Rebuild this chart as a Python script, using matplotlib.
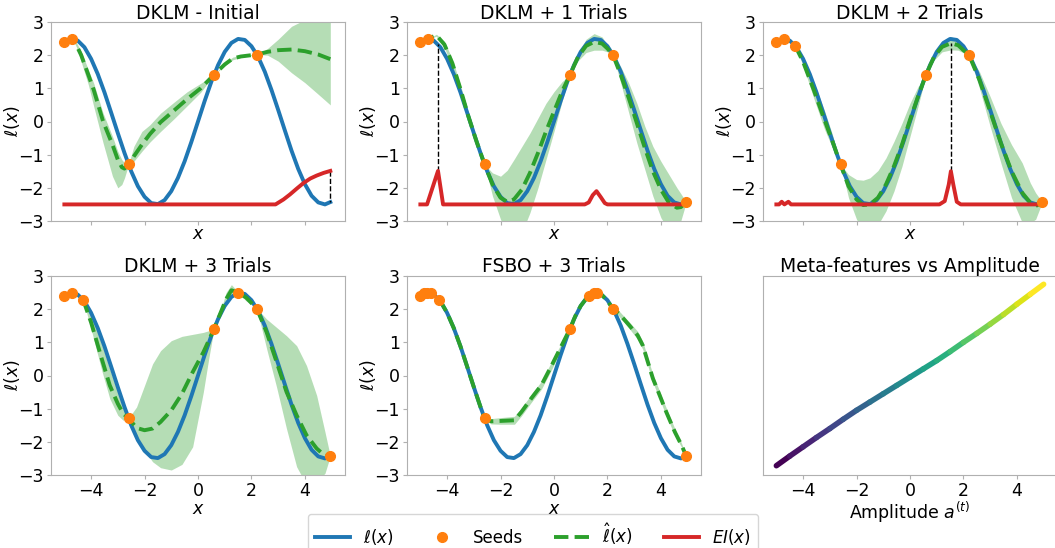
import numpy as np
import matplotlib
matplotlib.use("Agg")
import matplotlib.pyplot as plt
from matplotlib.lines import Line2D
from matplotlib.collections import LineCollection

BLUE, ORANGE, GREEN, RED = "#1f77b4", "#ff7f0e", "#2ca02c", "#d62728"
SPINE = "#b0b0b0"

# true objective l(x), every 0.25
X_TRUE = [-5.0, -4.75, -4.5, -4.25, -4.0, -3.75, -3.5, -3.25, -3.0, -2.75, -2.5, -2.25, -2.0, -1.75,
          -1.5, -1.25, -1.0, -0.75, -0.5, -0.25, 0.0, 0.25, 0.5, 0.75, 1.0, 1.25, 1.5, 1.75, 2.0,
          2.25, 2.5, 2.75, 3.0, 3.25, 3.5, 3.75, 4.0, 4.25, 4.5, 4.75, 4.95]
Y_TRUE = [2.40, 2.50, 2.44, 2.24, 1.89, 1.43, 0.88, 0.27, -0.35, -0.95, -1.50, -1.95, -2.27, -2.46,
          -2.49, -2.37, -2.10, -1.70, -1.20, -0.62, 0.00, 0.62, 1.20, 1.70, 2.10, 2.37, 2.49, 2.46, 2.27,
          1.95, 1.50, 0.95, 0.35, -0.27, -0.88, -1.43, -1.89, -2.24, -2.44, -2.50, -2.43]

# seeds
seed_x_init = [-5.0, -4.7, -2.6, 0.6, 2.2]
seed_y_init = [2.40, 2.50, -1.29, 1.41, 2.02]
seed_x_1 = seed_x_init + [4.95]
seed_y_1 = seed_y_init + [-2.43]
seed_x_2 = seed_x_1 + [-4.3]
seed_y_2 = seed_y_1 + [2.29]
seed_x_3 = seed_x_2 + [1.5]
seed_y_3 = seed_y_2 + [2.49]
seed_x_fsbo = [-5.0, -4.85, -4.75, -4.6, -4.3, -2.6, 0.6, 1.3, 1.5, 1.6, 2.2, 4.95]
seed_y_fsbo = [2.40, 2.48, 2.50, 2.48, 2.29, -1.29, 1.41, 2.41, 2.49, 2.50, 2.02, -2.43]

# DKLM - Initial : surrogate mean, band below / above mean
x_p1 = [-5.0, -4.7, -4.55, -4.37, -4.1, -3.9, -3.55, -3.2, -3.0, -2.85, -2.75, -2.6, -2.4, -2.1, -1.8,
        -1.4, -0.9, -0.4, 0.1, 0.6, 1.0, 1.3, 1.6, 2.2, 2.6, 3.0, 3.5, 4.0, 4.5, 4.95]
m_p1 = [2.40, 2.50, 2.30, 2.00, 1.40, 0.95, 0.00, -0.70, -1.15, -1.38, -1.42, -1.30, -1.05, -0.70, -0.38,
        -0.02, 0.33, 0.68, 1.00, 1.41, 1.72, 1.90, 1.96, 2.02, 2.10, 2.15, 2.17, 2.12, 2.02, 1.88]
lo_p1 = [2.40, 2.50, 2.25, 1.80, 1.10, 0.45, -0.65, -1.65, -2.00, -1.90, -1.70, -1.30, -1.20, -0.90, -0.62,
         -0.30, 0.08, 0.48, 0.88, 1.41, 1.68, 1.86, 1.93, 2.02, 2.00, 1.82, 1.47, 1.17, 0.82, 0.50]
hi_p1 = [2.40, 2.50, 2.38, 2.12, 1.55, 1.15, 0.25, -0.45, -0.90, -1.15, -1.25, -1.30, -0.75, -0.30, -0.10,
         0.25, 0.58, 0.90, 1.15, 1.41, 1.76, 1.94, 2.00, 2.02, 2.20, 2.48, 2.87, 3.07, 3.22, 3.26]

# DKLM + 1 Trials
x_p2 = [-5.0, -4.7, -4.4, -4.1, -3.8, -3.5, -3.2, -2.9, -2.6, -2.3, -2.0, -1.75, -1.5, -1.2, -0.9, -0.6,
        -0.3, 0.0, 0.3, 0.6, 0.9, 1.2, 1.5, 1.8, 2.0, 2.2, 2.5, 2.8, 3.1, 3.4, 3.7, 4.0, 4.3, 4.6, 4.75, 4.95]
m_p2 = [2.40, 2.50, 2.60, 2.32, 1.75, 0.98, 0.15, -0.60, -1.29, -1.90, -2.30, -2.42, -2.35, -2.05, -1.55,
        -0.95, -0.30, 0.30, 0.90, 1.41, 1.95, 2.28, 2.40, 2.35, 2.20, 2.02, 1.40, 0.70, -0.05, -0.80, -1.50,
        -2.05, -2.45, -2.60, -2.58, -2.43]
s_p2 = [0.0, 0.0, 0.03, 0.10, 0.12, 0.12, 0.12, 0.10, 0.0, 0.35, 0.65, 0.95, 1.20, 1.30, 1.20, 1.05,
        0.85, 0.60, 0.30, 0.0, 0.12, 0.20, 0.25, 0.20, 0.10, 0.0, 0.25, 0.45, 0.60, 0.65, 0.75, 0.85,
        0.85, 0.60, 0.40, 0.0]

# DKLM + 2 Trials
x_p3 = [-5.0, -4.7, -4.3, -4.0, -3.6, -3.2, -2.9, -2.6, -2.3, -2.0, -1.75, -1.5, -1.2, -0.9, -0.6, -0.3,
        0.0, 0.3, 0.6, 0.9, 1.2, 1.53, 1.8, 2.0, 2.2, 2.6, 3.0, 3.4, 3.8, 4.2, 4.5, 4.7, 4.95]
m_p3 = [2.40, 2.50, 2.29, 1.80, 0.95, 0.05, -0.60, -1.29, -1.95, -2.35, -2.52, -2.50, -2.30, -1.90, -1.35,
        -0.70, 0.05, 0.75, 1.41, 1.95, 2.25, 2.36, 2.30, 2.15, 2.02, 1.25, 0.30, -0.65, -1.50, -2.15, -2.45,
        -2.55, -2.43]
s_p3 = [0.0, 0.0, 0.0, 0.12, 0.25, 0.28, 0.20, 0.0, 0.35, 0.60, 0.75, 0.80, 0.82, 0.80, 0.75, 0.65,
        0.50, 0.30, 0.0, 0.10, 0.15, 0.20, 0.15, 0.08, 0.0, 0.25, 0.45, 0.60, 0.80, 0.90, 0.60, 0.40, 0.0]

# DKLM + 3 Trials
x_p4 = [-5.0, -4.7, -4.3, -4.0, -3.6, -3.3, -3.0, -2.8, -2.6, -2.3, -2.0, -1.7, -1.4, -1.0, -0.6, -0.2,
        0.2, 0.4, 0.6, 0.9, 1.05, 1.25, 1.5, 1.8, 2.2, 2.57, 2.94, 3.31, 3.69, 4.06, 4.44, 4.75, 4.95]
m_p4 = [2.40, 2.50, 2.29, 1.60, 0.50, -0.30, -0.85, -1.15, -1.29, -1.58, -1.65, -1.60, -1.40, -1.05, -0.55,
        0.10, 0.70, 1.05, 1.41, 2.00, 2.30, 2.57, 2.50, 2.35, 2.02, 1.30, 0.41, -0.49, -1.20, -1.80, -2.20,
        -2.42, -2.43]
lo_p4 = [2.40, 2.50, 2.29, 1.40, 0.15, -0.70, -1.20, -1.35, -1.29, -1.95, -2.25, -2.60, -2.78, -2.85, -2.68,
         -2.15, -0.50, 0.50, 1.41, 1.90, 2.10, 2.42, 2.49, 2.25, 2.02, 0.80, -0.35, -1.60, -2.75, -3.30, -3.20,
         -2.95, -2.43]
hi_p4 = [2.40, 2.50, 2.29, 1.85, 0.95, 0.20, -0.50, -0.95, -1.29, -0.95, -0.30, 0.35, 0.75, 1.05, 1.18,
         1.24, 1.30, 1.35, 1.41, 2.10, 2.50, 2.74, 2.52, 2.45, 2.02, 1.70, 1.45, 1.20, 0.90, 0.30, -0.60,
         -1.70, -2.43]

# FSBO + 3 Trials
x_p5 = [-5.0, -4.75, -4.5, -4.25, -4.0, -3.75, -3.5, -3.25, -3.0, -2.75, -2.6, -2.36, -2.0, -1.48, -1.22,
        -0.85, -0.47, -0.09, 0.29, 0.6, 0.8, 1.0, 1.3, 1.55, 1.8, 2.0, 2.2, 2.44, 2.82, 3.13, 3.32, 3.51,
        3.70, 3.95, 4.20, 4.52, 4.77, 4.95]
m_p5 = [2.40, 2.50, 2.44, 2.24, 1.89, 1.43, 0.88, 0.27, -0.35, -0.95, -1.29, -1.38, -1.37, -1.35, -1.10,
        -0.69, -0.29, 0.30, 0.91, 1.41, 1.80, 2.10, 2.41, 2.50, 2.42, 2.25, 2.02, 1.86, 1.51, 1.21, 0.91,
        0.41, -0.09, -0.59, -1.10, -1.70, -2.10, -2.43]
s_p5 = [0.0, 0.0, 0.0, 0.0, 0.05, 0.05, 0.05, 0.05, 0.05, 0.05, 0.0, 0.08, 0.10, 0.12, 0.12, 0.12, 0.12,
        0.12, 0.08, 0.0, 0.03, 0.03, 0.0, 0.0, 0.02, 0.02, 0.0, 0.08, 0.10, 0.12, 0.12, 0.12, 0.12, 0.12,
        0.12, 0.10, 0.06, 0.0]

# expected improvement (shifted down to -2.5)
ei_x_p1 = [-5.0, 2.9, 3.2, 3.44, 3.7, 3.94, 4.2, 4.44, 4.7, 4.95]
ei_y_p1 = [-2.5, -2.5, -2.35, -2.2, -2.02, -1.86, -1.72, -1.63, -1.55, -1.49]
ei_x_p2 = [-5.0, -4.75, -4.34, -4.15, 1.15, 1.3, 1.45, 1.59, 1.75, 1.9, 2.0, 4.95]
ei_y_p2 = [-2.5, -2.5, -1.49, -2.5, -2.5, -2.44, -2.22, -2.10, -2.28, -2.46, -2.5, -2.5]
ei_x_p3 = [-5.0, -4.9, -4.8, -4.7, -4.55, -4.45, 1.1, 1.3, 1.45, 1.53, 1.62, 1.75, 1.9, 4.95]
ei_y_p3 = [-2.5, -2.5, -2.42, -2.5, -2.42, -2.5, -2.5, -2.40, -1.90, -1.50, -1.90, -2.42, -2.5, -2.5]
# next query markers: x, from, to
next_p1 = (4.95, -1.49, -2.43)
next_p2 = (-4.34, -1.49, 2.33)
next_p3 = (1.53, -1.50, 2.36)

# meta-features vs amplitude
amp = [-5.0, -4.5, -4.0, -3.5, -3.0, -2.5, -2.0, -1.5, -1.0, -0.5, 0.0, 0.5, 1.0, 1.5, 2.0, 2.5, 3.0,
       3.5, 4.0, 4.5, 5.0]
meta = [-2.72, -2.43, -2.15, -1.87, -1.60, -1.32, -1.05, -0.80, -0.55, -0.30, -0.05, 0.20, 0.45, 0.72,
        1.00, 1.27, 1.55, 1.84, 2.15, 2.45, 2.75]

titles = ["DKLM - Initial", "DKLM + 1 Trials", "DKLM + 2 Trials", "DKLM + 3 Trials", "FSBO + 3 Trials",
          "Meta-features vs Amplitude"]

W, H = 1055, 548
fig = plt.figure(figsize=(W / 100, H / 100), dpi=100)
lefts = [51, 407, 763]
tops = [22, 276]
axes = []
for r in range(2):
    for c in range(3):
        ax = fig.add_axes([lefts[c] / W, 1 - (tops[r] + 199) / H, 294 / W, 199 / H])
        axes.append(ax)

panels = [
    (x_p1, m_p1, lo_p1, hi_p1, seed_x_init, seed_y_init, ei_x_p1, ei_y_p1, next_p1),
    (x_p2, m_p2, [m - s for m, s in zip(m_p2, s_p2)], [m + s for m, s in zip(m_p2, s_p2)],
     seed_x_1, seed_y_1, ei_x_p2, ei_y_p2, next_p2),
    (x_p3, m_p3, [m - s for m, s in zip(m_p3, s_p3)], [m + s for m, s in zip(m_p3, s_p3)],
     seed_x_2, seed_y_2, ei_x_p3, ei_y_p3, next_p3),
    (x_p4, m_p4, lo_p4, hi_p4, seed_x_3, seed_y_3, None, None, None),
    (x_p5, m_p5, [m - s for m, s in zip(m_p5, s_p5)], [m + s for m, s in zip(m_p5, s_p5)],
     seed_x_fsbo, seed_y_fsbo, None, None, None),
]

for i, (xs, ms, lo, hi, sx, sy, ex, ey, nxt) in enumerate(panels):
    ax = axes[i]
    ax.fill_between(xs, lo, hi, color=GREEN, alpha=0.35, lw=0, zorder=1)
    ax.plot(X_TRUE, Y_TRUE, color=BLUE, lw=2.8, zorder=2)
    ax.plot(xs, ms, color=GREEN, lw=2.8, ls="--", zorder=3)
    if ex is not None:
        ax.plot(ex, ey, color=RED, lw=2.8, zorder=3)
        ax.plot([nxt[0], nxt[0]], [nxt[1], nxt[2]], color="black", lw=1, ls="--", zorder=2)
    ax.plot(sx, sy, "o", color=ORANGE, ms=7, zorder=5)
    ax.set_ylim(-3, 3)
    ax.set_yticks([-3, -2, -1, 0, 1, 2, 3])
    ax.set_ylabel(r"$\ell(x)$", fontsize=12.5)
    ax.yaxis.set_label_coords(-0.10, 0.5)
    ax.set_xlabel(r"$x$", fontsize=12.5, labelpad=0)

# meta-feature panel
ax = axes[5]
pts = np.column_stack([amp, meta])
segs = np.stack([pts[:-1], pts[1:]], axis=1)
lc = LineCollection(segs, cmap="viridis", lw=4, capstyle="round")
lc.set_array(np.array(amp[:-1]))
ax.add_collection(lc)
ax.set_ylim(-3, 3)
ax.set_yticks([])
ax.set_xlabel(r"Amplitude $a^{(t)}$", fontsize=12.5, labelpad=0)

for i, ax in enumerate(axes):
    ax.set_xlim(-5.5, 5.5)
    ax.set_xticks([-4, -2, 0, 2, 4])
    ax.set_title(titles[i], fontsize=13.5, pad=2)
    ax.tick_params(color=SPINE, labelsize=12.5, length=3, pad=2)
    for sp in ax.spines.values():
        sp.set_color(SPINE)
    if i < 3:
        ax.tick_params(labelbottom=False)

handles = [
    Line2D([], [], color=BLUE, lw=2.8, label=r"$\ell(x)$"),
    Line2D([], [], color=ORANGE, marker="o", ls="none", ms=7, label="Seeds"),
    Line2D([], [], color=GREEN, lw=2.8, ls="--", label=r"$\hat{\ell}(x)$"),
    Line2D([], [], color=RED, lw=2.8, label=r"$EI(x)$"),
]
fig.legend(handles=handles, loc="upper center", bbox_to_anchor=(533 / W, 1 - 514 / H), ncol=4,
           fontsize=12, handlelength=2.1, columnspacing=1.85, borderpad=0.45, borderaxespad=0,
           frameon=True)

fig.savefig("out.png", dpi=100)
